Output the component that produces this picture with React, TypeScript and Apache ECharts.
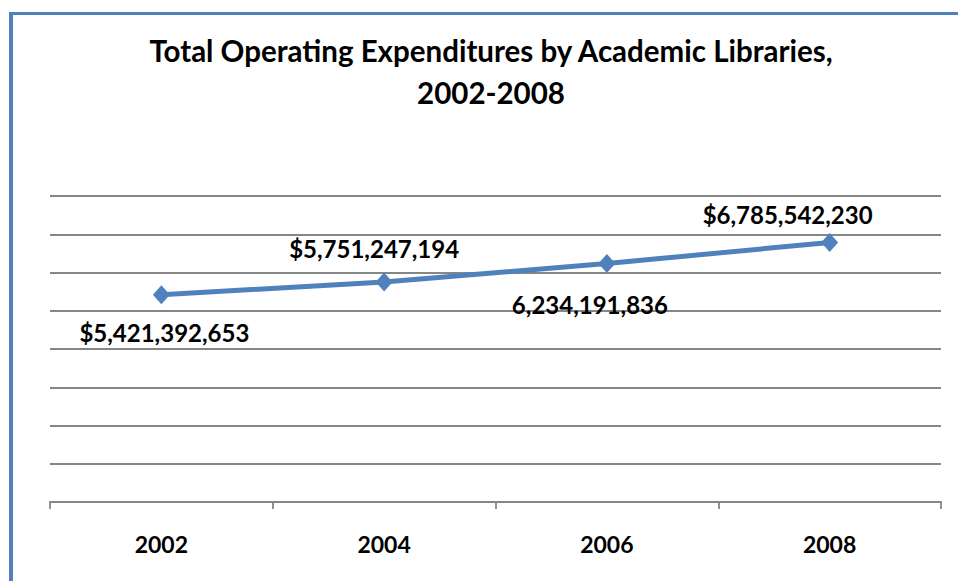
import React, { useEffect, useRef } from "react";
import * as echarts from "echarts";

const categories = ["2002", "2004", "2006", "2008"];
const values = [5421392653, 5751247194, 6234191836, 6785542230];
const labelPrefixes = ["$", "$", "", "$"];
const labelOffsets = [
  [3, 38],
  [-10, -34],
  [-17, 41],
  [-42, -28],
];
const titleLines = ["Total Operating Expenditures by Academic Libraries,", "2002-2008"];

const BLUE = "#4F81BD";
const GRID = "#868686";
const FONT = "Lato";

export default function App() {
  const ref = useRef<HTMLDivElement>(null);
  useEffect(() => {
    document.body.style.margin = "0";
    const chart = echarts.init(ref.current!, null, { renderer: "svg" });
    chart.setOption({
      animation: false,
      backgroundColor: "#ffffff",
      graphic: [
        { type: "line", shape: { x1: 11, y1: 12, x2: 11, y2: 581 }, style: { stroke: BLUE, lineWidth: 4 } },
        { type: "line", shape: { x1: 9, y1: 13.5, x2: 958, y2: 13.5 }, style: { stroke: BLUE, lineWidth: 3 } },
        {
          type: "text",
          x: 491,
          y: 29,
          style: {
            text: titleLines.join("\n"),
            textAlign: "center",
            fill: "#000",
            font: `bold 29.5px ${FONT}`,
            lineHeight: 42,
          },
        },
      ],
      grid: { left: 50, right: 17, top: 196, bottom: 79, containLabel: false },
      xAxis: {
        type: "category",
        data: categories,
        boundaryGap: true,
        axisLine: { lineStyle: { color: GRID, width: 1.8 } },
        axisTick: { show: true, length: 7, lineStyle: { color: GRID, width: 1.8 } },
        axisLabel: { color: "#000", fontFamily: FONT, fontWeight: "bold", fontSize: 23, margin: 30 },
      },
      yAxis: {
        type: "value",
        min: 0,
        max: 8000000000,
        interval: 1000000000,
        axisLabel: { show: false },
        axisLine: { show: false },
        axisTick: { show: false },
        splitLine: { lineStyle: { color: GRID, width: 1.8 } },
      },
      series: [
        {
          type: "line",
          data: values.map((v, i) => ({
            value: v,
            label: {
              show: true,
              position: "inside",
              offset: labelOffsets[i],
              formatter: () => labelPrefixes[i] + v.toLocaleString("en-US"),
            },
          })),
          symbol: "diamond",
          symbolSize: [17, 19],
          itemStyle: { color: BLUE },
          lineStyle: { color: BLUE, width: 5 },
          label: {
            color: "#000",
            fontFamily: FONT,
            fontWeight: "bold",
            fontSize: 24,
            align: "center",
            verticalAlign: "middle",
          },
        },
      ],
    });
    return () => chart.dispose();
  }, []);
  return <div ref={ref} style={{ width: 958, height: 581 }} />;
}
